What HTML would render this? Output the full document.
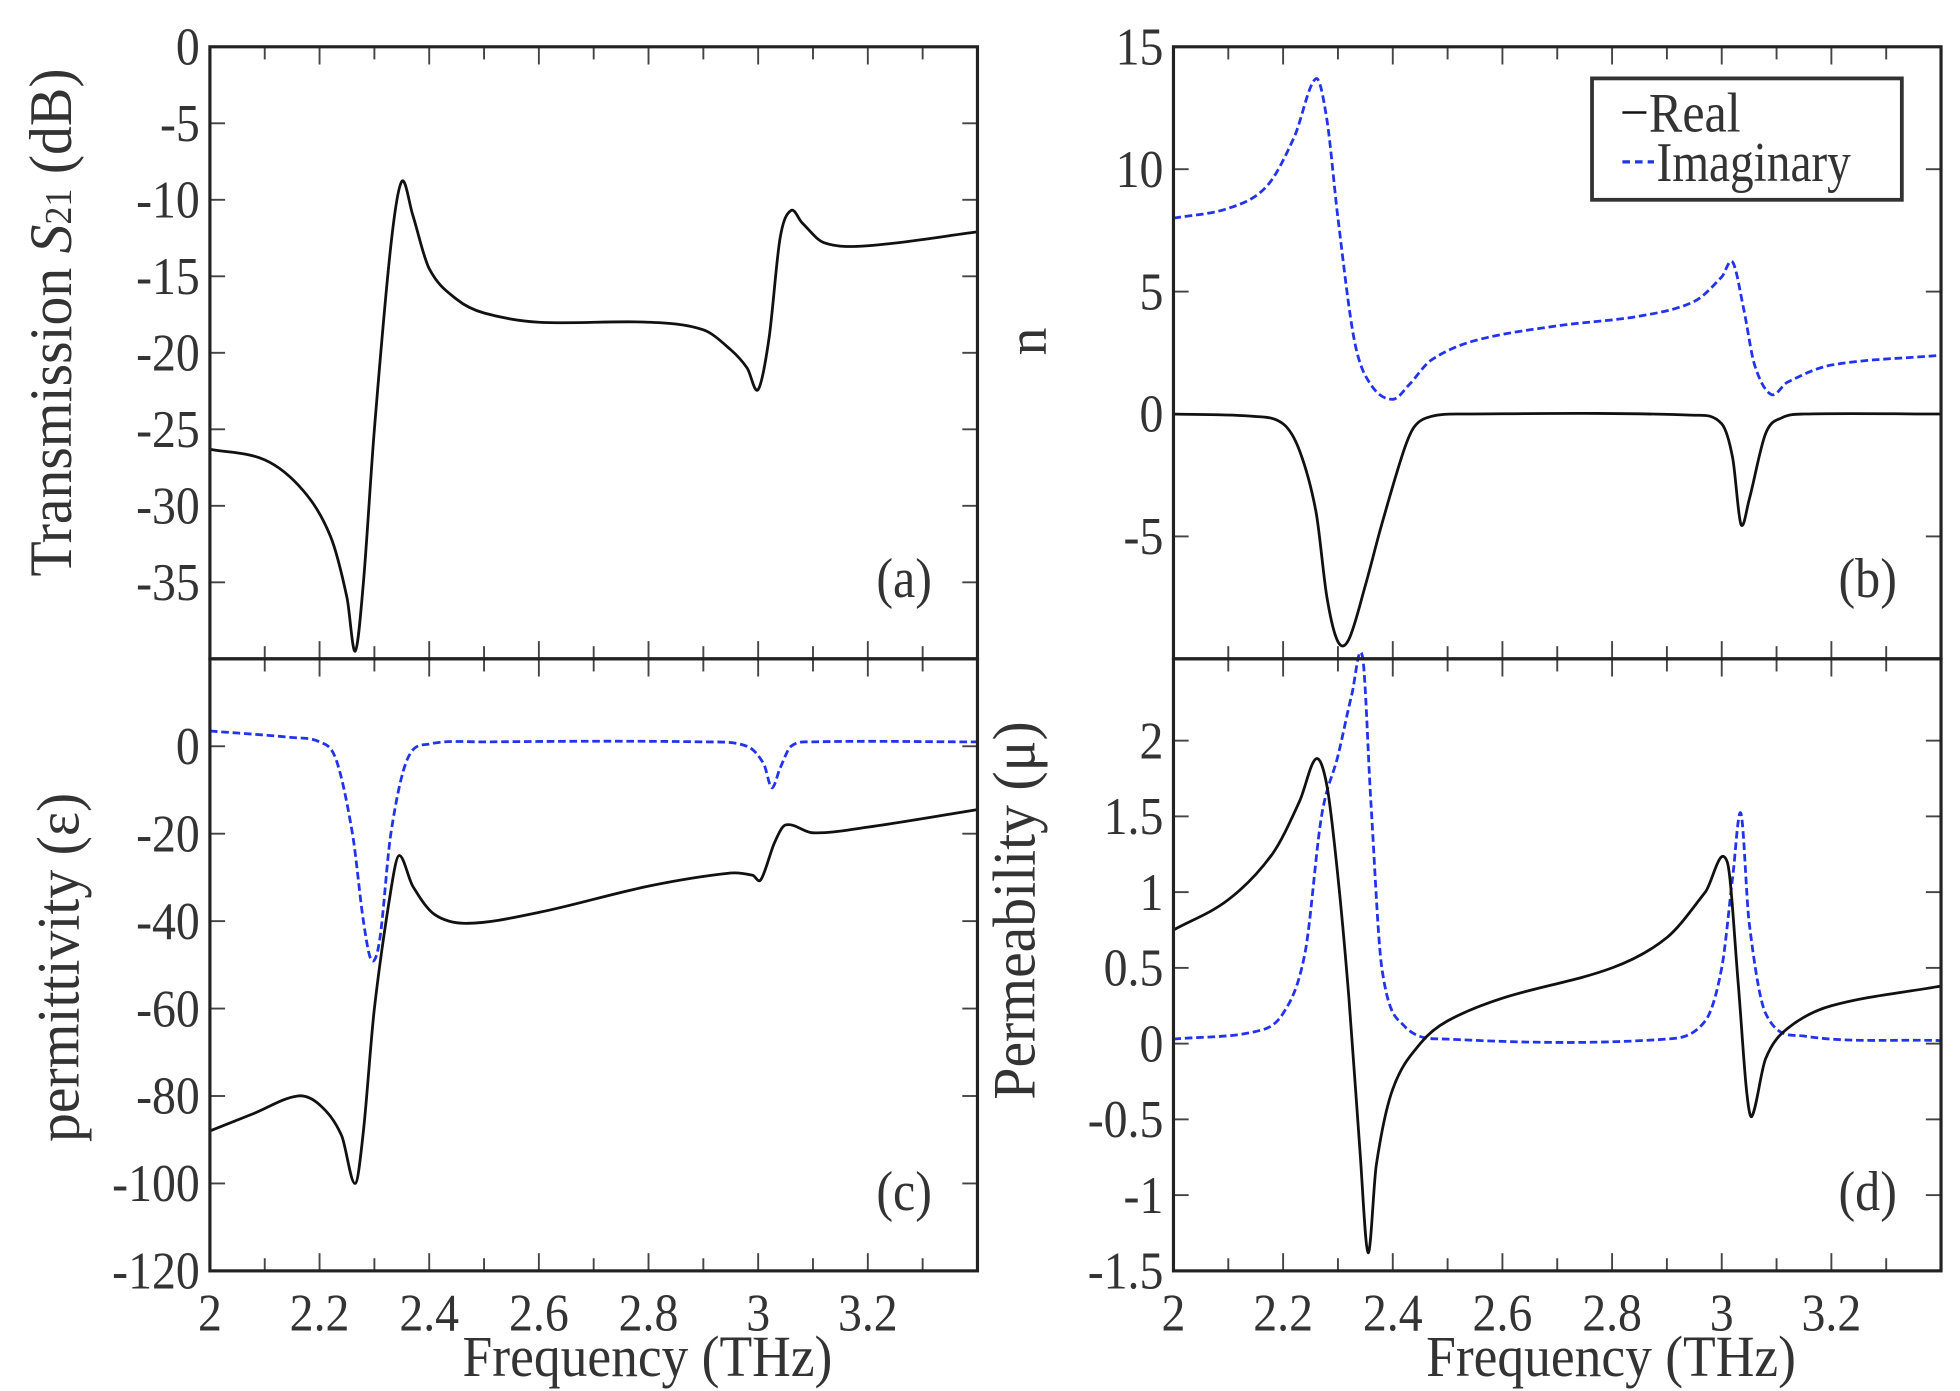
<!DOCTYPE html>
<html><head><meta charset="utf-8"><style>html,body{margin:0;padding:0;background:#fff}svg{display:block}</style></head>
<body>
<svg id="s" width="1960" height="1391" viewBox="0 0 1550 1100" preserveAspectRatio="none" xmlns="http://www.w3.org/2000/svg" font-family="Liberation Serif, serif"></svg>
<script>
const S=document.getElementById('s');let h='';
const X0=[166,928],XW=607;
function px(p,f){return X0[p%2]+(f-2)/1.4*XW;}
const P=[
 {top:37,bot:521,ymax:0,ymin:-40},
 {top:37,bot:521,ymax:15,ymin:-10},
 {top:521,bot:1005,ymax:20,ymin:-120},
 {top:521,bot:1005,ymax:2.54,ymin:-1.5}];
function py(p,v){const q=P[p];return q.top+(q.ymax-v)/(q.ymax-q.ymin)*(q.bot-q.top);}
function txt(x,y,s,anchor,size,extra,sx){h+=`<text transform="translate(${x},${y}) scale(${sx||0.9},1)" text-anchor="${anchor}" font-size="${size}" fill="#333" ${extra||''}>${s}</text>`;}
function curve(p,pts,color,dash,w){
 const q=pts.map(a=>[px(p,a[0]),py(p,a[1])]);const n=q.length;
 const m=q.map((_,i)=>{const a=q[Math.max(0,i-1)],b=q[Math.min(n-1,i+1)];return (b[1]-a[1])/(b[0]-a[0]);});
 let d=`M${q[0][0]},${q[0][1]}`;
 for(let i=0;i<n-1;i++){const p1=q[i],p2=q[i+1],dx=p2[0]-p1[0];
  d+=`C${p1[0]+dx/3},${p1[1]+m[i]*dx/3} ${p2[0]-dx/3},${p2[1]-m[i+1]*dx/3} ${p2[0]},${p2[1]}`;}
 h+=`<path d="${d}" fill="none" stroke="${color}" stroke-width="${w||2.2}" ${dash?'stroke-dasharray="6,3"':''} stroke-linejoin="round"/>`;
}
const yt=[[0,-5,-10,-15,-20,-25,-30,-35],[15,10,5,0,-5],[0,-20,-40,-60,-80,-100,-120],[2,1.5,1,0.5,0,-0.5,-1,-1.5]];
for(let p=0;p<4;p++){
 const q=P[p],x0=X0[p%2],x1=x0+XW;
 for(let k=0;k<=14;k++){const x=px(p,2+k*0.1),L=(k%2==0)?14:10;
  h+=`<line x1="${x}" y1="${q.bot}" x2="${x}" y2="${q.bot-L}" stroke="#444" stroke-width="1.5"/>`;
  h+=`<line x1="${x}" y1="${q.top}" x2="${x}" y2="${q.top+L}" stroke="#444" stroke-width="1.5"/>`;}
 for(const v of yt[p]){const y=py(p,v);
  h+=`<line x1="${x0}" y1="${y}" x2="${x0+12}" y2="${y}" stroke="#444" stroke-width="1.5"/><line x1="${x1}" y1="${y}" x2="${x1-12}" y2="${y}" stroke="#444" stroke-width="1.5"/>`;
  txt(x0-8,y+14,String(v),'end',42);}
 if(p>=2){const lab=['2','2.2','2.4','2.6','2.8','3','3.2'];
  lab.forEach((s,i)=>txt(px(p,2+i*0.2),1052,s,'middle',42));
  txt(x0+346,1088,'Frequency (THz)','middle',46,'',0.92);}
}
curve(0,[[2,-26.3],[2.1,-27],[2.17,-29],[2.22,-32],[2.25,-36],[2.265,-39.5],[2.28,-35],[2.3,-25],[2.33,-13],[2.35,-8.8],[2.37,-11],[2.4,-14.5],[2.45,-16.5],[2.5,-17.4],[2.6,-18],[2.8,-18],[2.9,-18.5],[2.95,-19.8],[2.98,-21],[3.0,-22.4],[3.02,-19],[3.04,-12.5],[3.06,-10.7],[3.08,-11.5],[3.12,-12.8],[3.2,-13],[3.4,-12.1]],'#111');
curve(1,[[2,8],[2.1,8.4],[2.17,9.3],[2.22,11.3],[2.26,13.7],[2.28,12],[2.3,8],[2.33,3],[2.36,1.2],[2.4,0.6],[2.43,1.2],[2.47,2.2],[2.55,3],[2.7,3.6],[2.85,4],[2.95,4.6],[3.0,5.6],[3.02,6.2],[3.04,4.3],[3.06,2],[3.09,0.8],[3.12,1.3],[3.2,2],[3.4,2.4]],'#2233ee',1);
curve(1,[[2,0],[2.15,-0.1],[2.2,-0.4],[2.23,-1.5],[2.26,-4],[2.28,-7.5],[2.3,-9.3],[2.32,-9.2],[2.35,-7],[2.38,-4.5],[2.42,-1.5],[2.44,-0.5],[2.47,-0.1],[2.52,0],[2.95,-0.05],[3.0,-0.4],[3.02,-1.8],[3.035,-4.5],[3.05,-3.5],[3.08,-0.8],[3.11,-0.15],[3.15,0],[3.4,0]],'#111');
curve(2,[[2,3.5],[2.15,2],[2.2,1],[2.23,-3],[2.26,-20],[2.28,-40],[2.295,-49],[2.31,-44],[2.33,-20],[2.36,-3],[2.4,0.5],[2.5,1],[2.9,1],[2.98,0],[3.01,-4],[3.025,-9.5],[3.04,-5],[3.06,0],[3.1,1],[3.4,1]],'#2233ee',1);
curve(2,[[2,-88],[2.08,-84],[2.16,-80],[2.2,-82],[2.24,-89],[2.265,-100],[2.28,-88],[2.3,-60],[2.33,-33],[2.345,-25],[2.37,-32],[2.41,-38.5],[2.47,-40.5],[2.6,-38],[2.8,-32],[2.95,-29],[2.99,-29.5],[3.005,-30.5],[3.03,-22],[3.05,-18],[3.1,-19.8],[3.2,-18.5],[3.4,-14.5]],'#111');
curve(3,[[2,0.03],[2.15,0.08],[2.2,0.2],[2.24,0.6],[2.27,1.5],[2.3,1.9],[2.325,2.3],[2.345,2.55],[2.36,1.6],[2.38,0.5],[2.42,0.12],[2.5,0.03],[2.9,0.03],[2.97,0.15],[3.0,0.5],[3.02,1.1],[3.035,1.52],[3.05,0.8],[3.08,0.2],[3.15,0.05],[3.4,0.02]],'#2233ee',1);
curve(3,[[2,0.75],[2.1,0.95],[2.18,1.25],[2.23,1.6],[2.26,1.88],[2.28,1.7],[2.3,1.1],[2.32,0.3],[2.34,-0.7],[2.355,-1.38],[2.37,-0.8],[2.4,-0.3],[2.45,0],[2.5,0.15],[2.6,0.3],[2.8,0.5],[2.9,0.7],[2.97,1],[3.01,1.2],[3.03,0.4],[3.045,-0.3],[3.055,-0.48],[3.08,-0.1],[3.12,0.1],[3.2,0.25],[3.4,0.38]],'#111');
for(let p=0;p<4;p++){const q=P[p],x0=X0[p%2];h+=`<rect x="${x0}" y="${q.top}" width="${XW}" height="${q.bot-q.top}" fill="none" stroke="#222" stroke-width="2.5"/>`;}
txt(715,472,'(a)','middle',44);txt(1477,472,'(b)','middle',44);txt(715,957,'(c)','middle',44);txt(1477,957,'(d)','middle',44);
h+=`<text transform="translate(56,255) rotate(-90) scale(0.95,1)" text-anchor="middle" font-size="48" fill="#333">Transmission <tspan font-style="italic">S</tspan><tspan font-size="30">21</tspan>  (dB)</text>`;
h+=`<text transform="translate(827,270) rotate(-90)" text-anchor="middle" font-size="44" fill="#333">n</text>`;
h+=`<text transform="translate(62,765) rotate(-90) scale(0.95,1)" text-anchor="middle" font-size="48" fill="#333">permittivity (ε)</text>`;
h+=`<text transform="translate(818,720) rotate(-90) scale(0.95,1)" text-anchor="middle" font-size="48" fill="#333">Permeability (μ)</text>`;
h+=`<rect x="1259" y="62" width="245" height="96" fill="#fff" stroke="#333" stroke-width="3"/>`;
h+=`<line x1="1283" y1="89" x2="1302" y2="89" stroke="#111" stroke-width="2"/>`;
h+=`<line x1="1283" y1="128" x2="1308" y2="128" stroke="#2233ee" stroke-width="2.5" stroke-dasharray="6,4"/>`;
txt(1304,104,'Real','start',44,'fill="#111"',0.9);txt(1310,143,'Imaginary','start',44,'fill="#111"',0.85);
S.innerHTML=h;
</script>
</body></html>
